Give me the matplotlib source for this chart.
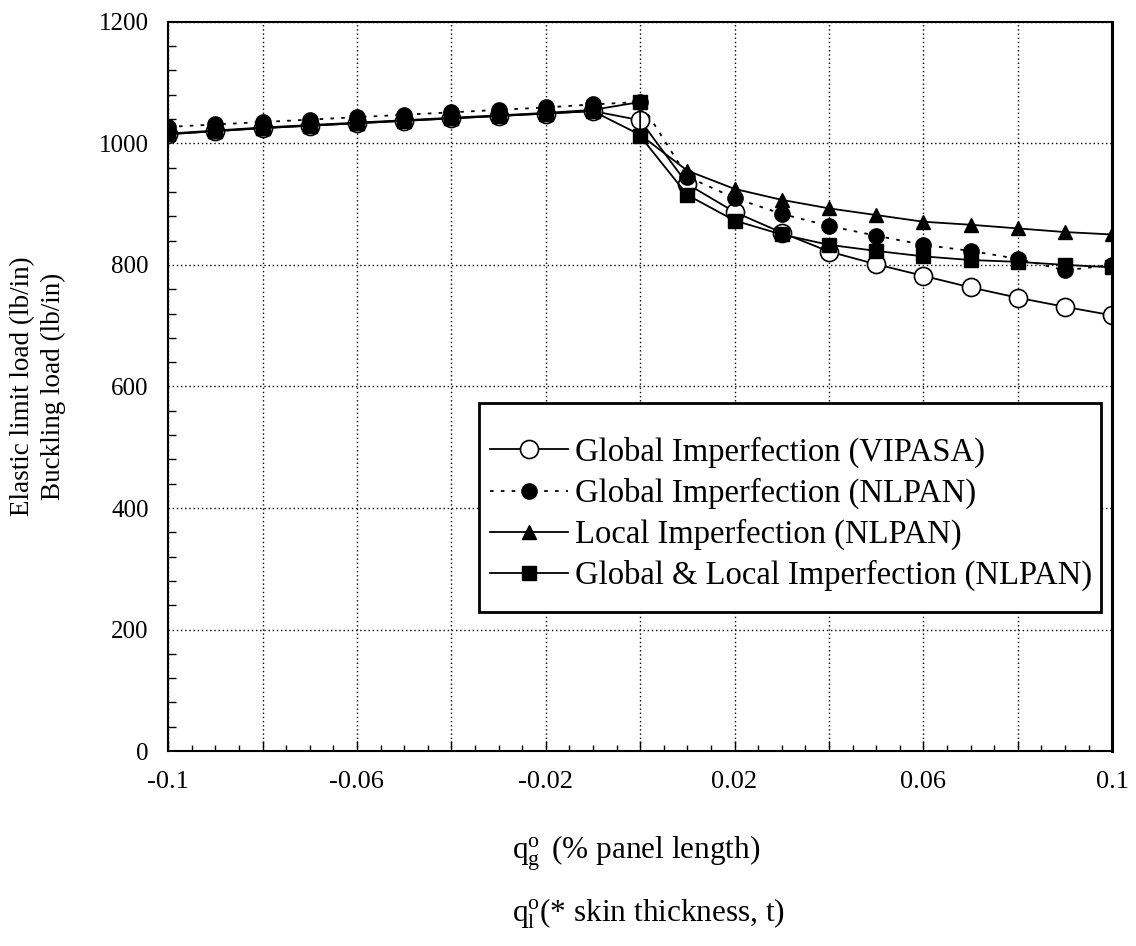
import numpy as np
import matplotlib
matplotlib.use("Agg")
import matplotlib.pyplot as plt
from matplotlib.patches import Rectangle
from matplotlib.ticker import MultipleLocator

plt.rcParams["font.family"] = ["Liberation Serif", "DejaVu Serif"]
plt.rcParams["mathtext.fontset"] = "custom"
plt.rcParams["mathtext.rm"] = "Liberation Serif"
plt.rcParams["mathtext.it"] = "Liberation Serif"

# imperfection amplitude, every 0.01 from -0.1 to 0.1
xVals = [-0.1, -0.09, -0.08, -0.07, -0.06, -0.05, -0.04, -0.03, -0.02, -0.01,
         0.0, 0.01, 0.02, 0.03, 0.04, 0.05, 0.06, 0.07, 0.08, 0.09, 0.1]

globalVipasa = [1015, 1020, 1025, 1029, 1033, 1037, 1041, 1045, 1049, 1053,
                1038, 933, 887, 853, 822, 801, 782, 763, 746, 731, 717]
globalNlpan = [1027, 1031, 1035, 1039, 1043, 1047, 1051, 1055, 1059, 1064,
               1068, 945, 910, 884, 864, 848, 833, 823, 810, 791, 800]
localNlpan = [1015, 1020, 1025, 1029, 1033, 1037, 1041, 1045, 1049, 1053,
              1014, 955, 925, 907, 893, 882, 871, 866, 860, 854, 850]

# combined case has two results at zero
xCombined = [-0.1, -0.09, -0.08, -0.07, -0.06, -0.05, -0.04, -0.03, -0.02, -0.01,
             0.0, 0.0, 0.01, 0.02, 0.03, 0.04, 0.05, 0.06, 0.07, 0.08, 0.09, 0.1]
combinedNlpan = [1016, 1021, 1026, 1030, 1034, 1038, 1042, 1046, 1050, 1055,
                 1068, 1012, 915, 873, 850, 833, 823, 814, 808, 805, 800, 796]

labels = ["Global Imperfection (VIPASA)",
          "Global Imperfection (NLPAN)",
          "Local Imperfection (NLPAN)",
          "Global & Local Imperfection (NLPAN)"]

fig = plt.figure(figsize=(11.36, 9.46), dpi=100)
ax = fig.add_axes([0.148, 0.206, 0.831, 0.771])

ax.plot(xCombined, combinedNlpan, color="black", lw=1.3, marker="s", ms=9.5,
        mfc="black", mec="black", label=labels[3], zorder=3)
ax.plot(xVals, localNlpan, color="black", lw=1.3, marker="^", ms=10,
        mfc="black", mec="black", label=labels[2], zorder=4)
ax.plot(xVals, globalNlpan, color="black", lw=1.3, ls=(0, (2, 4)), marker="o", ms=11,
        mfc="black", mec="black", label=labels[1], zorder=5)
ax.plot(xVals, globalVipasa, color="black", lw=1.3, marker="o", ms=13,
        mfc="white", mec="black", mew=1.2, label=labels[0], zorder=2)

ax.set_xlim(-0.1, 0.1)
ax.set_ylim(0, 1200)

ax.set_xticks(np.arange(-0.1, 0.1001, 0.02))
ax.set_xticklabels(["-0.1", "", "-0.06", "", "-0.02", "", "0.02", "", "0.06", "", "0.1"])
ax.xaxis.set_minor_locator(MultipleLocator(0.005))
ax.set_yticks(np.arange(0, 1201, 200))
ax.yaxis.set_minor_locator(MultipleLocator(40))

ax.tick_params(axis="both", which="both", direction="in")
ax.tick_params(axis="x", which="major", length=7, width=1, pad=14, labelsize=19)
ax.tick_params(axis="x", which="minor", length=4, width=1)
ax.tick_params(axis="y", which="major", length=0, pad=14, labelsize=18)
ax.tick_params(axis="y", which="minor", length=6, width=1)

ax.grid(True, which="major", color="black", ls=(0, (1, 2)), lw=1)
for side in ["left", "bottom", "top"]:
    ax.spines[side].set_linewidth(1.5)
ax.spines["right"].set_linewidth(2.2)

ax.set_ylabel("Elastic limit load (lb/in)\nBuckling load (lb/in)", fontsize=19.5,
              linespacing=1.3, va="center")
ax.yaxis.set_label_coords(-0.138, 0.5)
fig.text(0.451, 0.098, r"$\mathregular{q^{o}_{g}\,}$ (% panel length)", fontsize=22.5,
         ha="left", va="center")
fig.text(0.451, 0.034, r"$\mathregular{q^{o}_{l}}$(* skin thickness, t)", fontsize=22.5,
         ha="left", va="center")

# legend box drawn separately so the entries can sit lower inside it
box = Rectangle((0.329, 0.191), 0.659, 0.286, transform=ax.transAxes,
                facecolor="white", edgecolor="black", lw=2, zorder=9)
ax.add_patch(box)

handles, names = ax.get_legend_handles_labels()
order = [3, 2, 1, 0]
leg = ax.legend([handles[i] for i in order], [names[i] for i in order],
                loc="center left", bbox_to_anchor=(0.329, 0.325),
                fontsize=23.5, frameon=False,
                handlelength=2.4, handletextpad=0.2, borderpad=0.35,
                labelspacing=0.3, borderaxespad=0)
leg.set_zorder(10)

fig.savefig("out.png", dpi=100, facecolor="white")
